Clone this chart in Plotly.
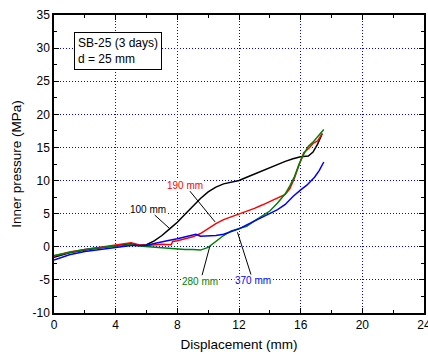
import plotly.graph_objects as go

# Data (displacement mm, inner pressure MPa)
x_100 = [0, 1, 2, 3, 4, 5, 5.5, 6, 6.5, 7, 7.5, 8, 8.5, 9, 9.5, 10, 10.5, 11, 11.5, 12, 12.5, 13, 13.5, 14, 14.5, 15, 15.5, 16, 16.5, 16.8, 17.1, 17.4]
y_100 = [-1.6, -0.9, -0.5, -0.2, 0.1, 0.5, 0.2, 0.3, 0.9, 1.7, 2.7, 3.7, 4.9, 6.1, 7.3, 8.3, 9.0, 9.5, 9.8, 10.0, 10.5, 11.0, 11.5, 12.0, 12.4, 12.9, 13.3, 13.6, 13.7, 14.3, 15.5, 17.1]

x_190 = [0, 1, 2, 3, 4, 5, 5.5, 6, 7, 7.6, 7.7, 8, 8.5, 9, 9.5, 10, 10.5, 11, 11.5, 12, 12.5, 13, 13.5, 14, 14.5, 15, 15.3, 15.6, 15.9, 16.2, 16.5, 16.8, 17.1, 17.4]
y_190 = [-1.4, -0.8, -0.4, -0.1, 0.2, 0.6, 0.3, 0.2, 0.4, 0.3, 0.8, 0.9, 1.2, 1.5, 2.0, 2.8, 3.5, 4.1, 4.5, 4.9, 5.3, 5.8, 6.3, 6.8, 7.3, 7.9, 8.8, 10.4, 12.4, 14.2, 14.8, 15.6, 16.0, 17.1]

x_280 = [0, 1, 2, 3, 4, 5, 5.5, 6, 7, 7.7, 8, 8.5, 9, 9.5, 10, 10.5, 11, 11.5, 12, 12.5, 13, 13.5, 14, 14.5, 15, 15.3, 15.6, 15.9, 16.2, 16.5, 16.8, 17.1, 17.5]
y_280 = [-1.3, -0.8, -0.4, -0.1, 0.1, 0.3, 0.1, 0.0, -0.1, -0.3, -0.3, -0.4, -0.4, -0.5, -0.1, 0.8, 1.7, 2.4, 2.7, 3.1, 3.9, 4.6, 5.4, 6.6, 8.0, 9.2, 10.6, 12.5, 14.0, 15.2, 15.8, 16.6, 17.7]

x_370 = [0, 1, 2, 3, 4, 5, 5.5, 6, 6.5, 7, 7.5, 8, 8.5, 9, 9.2, 9.5, 10, 10.5, 11, 11.5, 12, 12.5, 13, 13.5, 14, 14.5, 15, 15.5, 16, 16.4, 16.9, 17.2, 17.5]
y_370 = [-2.0, -1.2, -0.7, -0.4, -0.1, 0.2, 0.2, 0.2, 0.5, 0.8, 1.0, 1.2, 1.5, 1.8, 1.9, 1.6, 1.6, 1.7, 1.9, 2.3, 2.7, 3.3, 3.9, 4.5, 5.1, 5.6, 6.4, 7.6, 8.6, 9.3, 10.5, 11.5, 12.8]

x_ticks = [0, 4, 8, 12, 16, 20, 24]
x_ticktext = ["0", "4", "8", "12", "16", "20", "24"]
y_ticks = [-10, -5, 0, 5, 10, 15, 20, 25, 30, 35]
y_ticktext = ["-10", "-5", "0", "5", "10", "15", "20", "25", "30", "35"]

labels = ["100 mm", "190 mm", "280 mm", "370 mm"]
colors = ["black", "red", "green", "blue"]
label_colors = ["black", "red", "green", "blue"]
# label text positions and pointer ends (data coords)
label_pos = [(6.1, 5.7), (8.5, 9.3), (9.5, -5.2), (12.9, -5.1)]
pointer_end = [(7.5, 2.75), (10.45, 3.75), (10.1, 0.0), (11.9, 2.2)]

series = [(x_100, y_100), (x_190, y_190), (x_280, y_280), (x_370, y_370)]

FONT = "Liberation Sans, Arial"

fig = go.Figure()
for (xs, ys), c, name in zip(series, colors, labels):
    fig.add_trace(go.Scatter(x=xs, y=ys, mode="lines", name=name,
                             line=dict(color=c, width=1.5), showlegend=False))

for lab, col, (tx, ty), (px, py) in zip(labels, label_colors, label_pos, pointer_end):
    fig.add_annotation(x=px, y=py, ax=tx, ay=ty, axref="x", ayref="y",
                       xref="x", yref="y", text=lab, showarrow=True,
                       arrowhead=0, arrowwidth=1, arrowcolor="black",
                       font=dict(color=col, size=10, family=FONT),
                       bgcolor="white", borderpad=0)

fig.add_annotation(x=1.3, y=32.5, xref="x", yref="y", xanchor="left", yanchor="top",
                   text="SB-25 (3 days)<br>d = 25 mm", showarrow=False, align="left",
                   font=dict(size=12, color="black", family=FONT),
                   bordercolor="black", borderwidth=1, borderpad=3, bgcolor="white")

axis_common = dict(
    showline=True, linecolor="black", linewidth=1.5, mirror="allticks",
    ticks="inside", ticklen=5, tickcolor="black", tickwidth=1,
    showgrid=True, gridcolor="blue", griddash="1px,2px", gridwidth=1,
    zeroline=False, ticklabeloverflow="allow", automargin=False,
    tickfont=dict(size=12, family=FONT, color="black"),
)

fig.update_xaxes(range=[0, 24], tickmode="array", tickvals=x_ticks, ticktext=x_ticktext,
                 minor=dict(dtick=2, tick0=0, ticks="inside", ticklen=3, tickcolor="black", showgrid=False),
                 title=dict(text="Displacement (mm)", font=dict(size=13.5, family=FONT, color="black"), standoff=8),
                 **axis_common)
fig.update_yaxes(range=[-10, 35], tickmode="array", tickvals=y_ticks, ticktext=y_ticktext,
                 minor=dict(dtick=2.5, tick0=0, ticks="inside", ticklen=3, tickcolor="black", showgrid=False),
                 title=dict(text="Inner pressure (MPa)", font=dict(size=13.5, family=FONT, color="black"), standoff=8),
                 **axis_common)

fig.update_layout(width=428, height=355, margin=dict(l=54, r=4, t=15, b=42),
                  plot_bgcolor="white", paper_bgcolor="white")

fig.write_html("out.html")
